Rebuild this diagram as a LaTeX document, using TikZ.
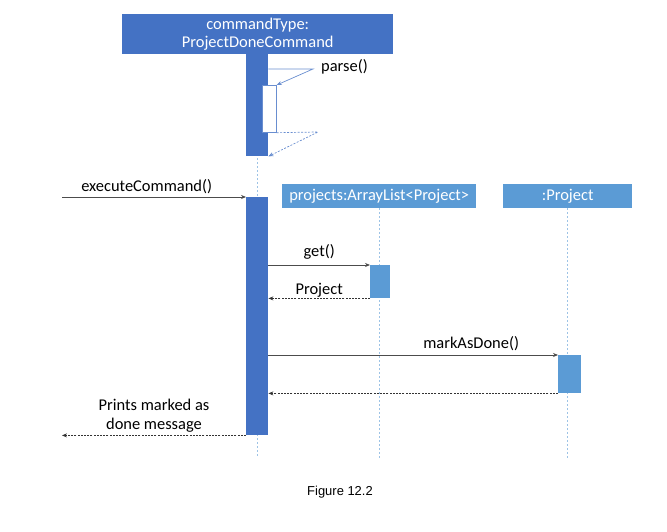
\documentclass[tikz,border=0pt]{standalone}
\usepackage{fontspec}
\setmainfont{Carlito}
\newfontfamily\capfont{Liberation Sans}
\usetikzlibrary{arrows.meta}
\definecolor{darkbl}{HTML}{4472C4}
\definecolor{lightbl}{HTML}{5B9BD5}
\definecolor{lifebl}{HTML}{9DC3E6}
\tikzset{
  txt/.style={font=\fontsize{16.5}{19}\selectfont},
  bar/.style={draw=none,fill=#1,inner sep=0,anchor=north west},
  objbox/.style={fill=#1,text=white,txt,inner sep=0,anchor=north west},
  lifeline/.style={lifebl,line width=1bp,dash pattern=on 2bp off 2bp},
  msg/.style={draw=black!70,line width=0.8bp,-{Stealth[length=5bp,width=4bp]}},
  ret/.style={draw=black!80,line width=0.8bp,dash pattern=on 2bp off 1.2bp,-{Stealth[length=5bp,width=4bp]}},
  selfmsg/.style={darkbl!80,line width=0.7bp,-{Stealth[length=5bp,width=4bp]}}
}
\begin{document}
\begin{tikzpicture}[x=1bp,y=-1bp]
   \useasboundingbox (0,0) rectangle (667,532);
   % objects
   \node[objbox=darkbl,minimum width=271bp,minimum height=40bp,align=center] (hdr) at (122,14) {commandType:\\ProjectDoneCommand};
   \node[objbox=lightbl,minimum width=194bp,minimum height=24bp] (arr) at (282,184) {projects:ArrayList<Project>};
   \node[objbox=lightbl,minimum width=129bp,minimum height=24bp] (proj) at (503,184) {:Project};
   % lifelines
   \coordinate (bottom) at (0,458);
   \draw[lifeline] (hdr.south) -- (hdr.south |- bottom);
   \draw[lifeline] (arr.south) -- (arr.south |- bottom);
   \draw[lifeline] (proj.south) -- (proj.south |- bottom);
   % activations
   \node[bar=darkbl,minimum width=22bp,minimum height=102bp] (act1) at (246,54) {};
   \node[bar=darkbl,minimum width=22bp,minimum height=238bp] (act2) at (246,197) {};
   \node[bar=lightbl,minimum width=20bp,minimum height=33bp] (getact) at (370,265) {};
   \node[bar=lightbl,minimum width=23bp,minimum height=38bp] (markact) at (558,355) {};
   \node[bar=white,draw=darkbl!80,line width=0.7bp,minimum width=14bp,minimum height=47bp] (pbox) at (262,85) {};
   % parse()
   \coordinate (pturn) at (313,69);
   \coordinate (rturn) at (318,132);
   \draw[selfmsg] (act1.east |- pturn) -- (pturn) -- (pbox.north east);
   \node[txt,anchor=west,inner sep=2bp] (parse) at (319,67) {parse()};
   \draw[selfmsg,dash pattern=on 2bp off 1.5bp] (pbox.south east) -- (rturn) -- (act1.south east);
   % messages
   \coordinate (caller) at (62,197);
   \draw[msg] (caller) -- (act2.north west) node[txt,pos=0.46,above,inner sep=3bp] {executeCommand()};
   \draw[msg] (act2.east |- getact.north) -- (getact.north west) node[txt,midway,above,inner sep=5bp] {get()};
   \draw[ret] (getact.south west) -- (act2.east |- getact.south) node[txt,midway,above,inner sep=1bp] {Project};
   \draw[msg] (act2.east |- markact.north) -- (markact.north west) node[txt,pos=0.7,above,inner sep=4bp] {markAsDone()};
   \draw[ret] (markact.south west) -- (act2.east |- markact.south);
   \draw[ret] (act2.south west) -- (caller |- act2.south) node[txt,midway,above,align=center,inner sep=3bp] {Prints marked as\\done message};
   \node[font=\capfont\fontsize{13}{15}\selectfont] (cap) at (340,492) {Figure 12.2};
\end{tikzpicture}
\end{document}
